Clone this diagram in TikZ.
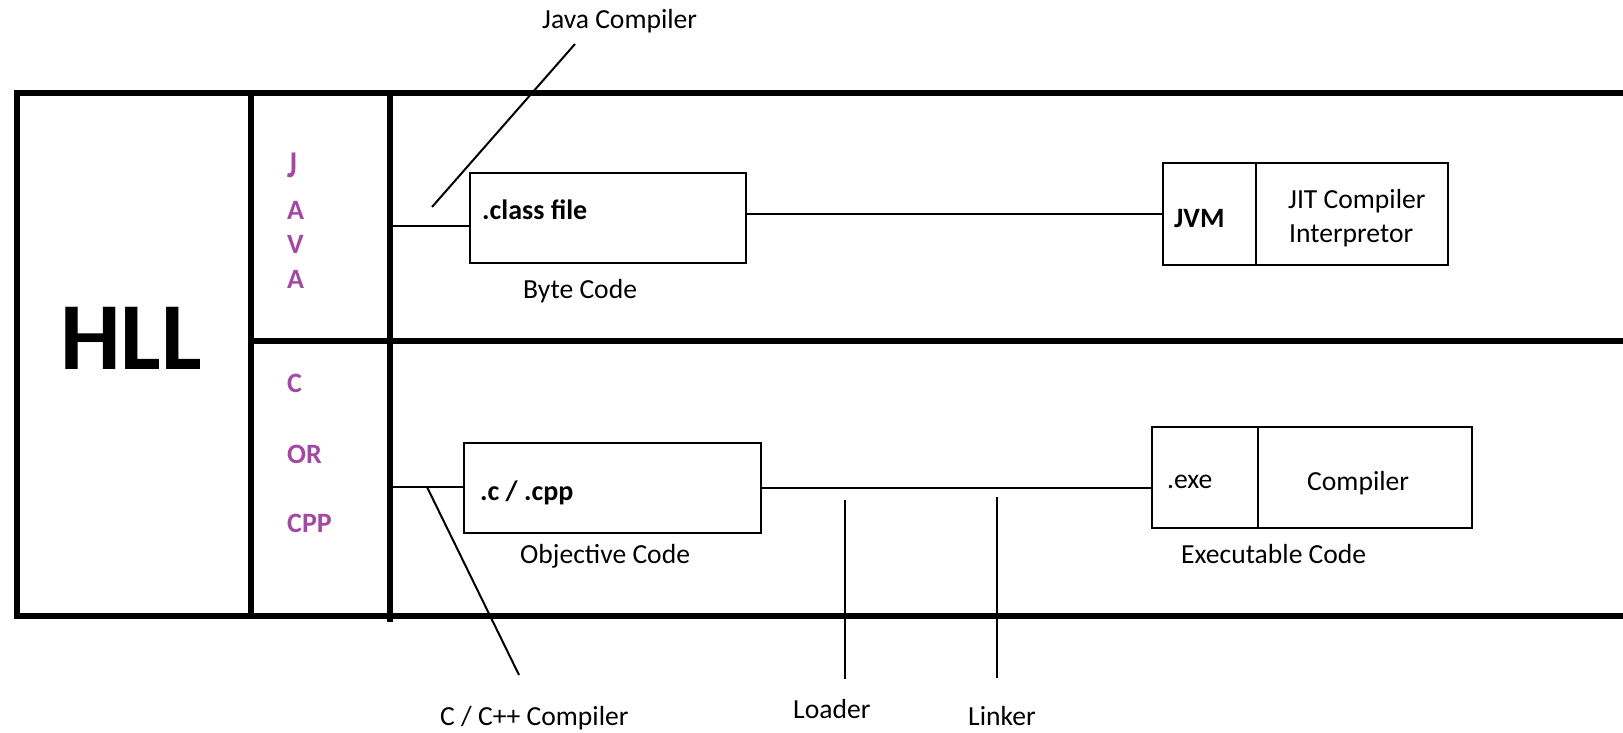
\documentclass[tikz,border=0pt]{standalone}
\usepackage{fontspec}
\setmainfont{Carlito}
\definecolor{hllpurple}{RGB}{163,73,164}
\begin{document}
\begin{tikzpicture}[x=1pt,y=-1pt,
  frame/.style={line width=6pt, line join=miter},
  conn/.style={line width=2pt},
  box/.style={draw, line width=2.5pt, inner sep=0pt},
  lbl/.style={anchor=base west, inner sep=0pt, font=\fontsize{27.6}{33}\selectfont},
  blbl/.style={anchor=base west, inner sep=0pt, font=\fontsize{28}{33}\selectfont\bfseries},
  purp/.style={blbl, text=hllpurple}]
\useasboundingbox (0,0) rectangle (1623,733);
% frame
\draw[frame] (1623,93) -- (17,93) -- (17,616) -- (1623,616);
\draw[frame] (251,341) -- (1623,341);
\draw[frame] (251,93) -- (251,616);
\draw[frame] (390,93) -- (390,622);
% HLL
\node[anchor=base west, inner sep=0pt, font=\fontsize{96}{110}\selectfont\bfseries] (hll) at (60,369) {HLL};
% JAVA letters
\node[purp] (j1) at (287,178) {\scalebox{1.05}[1.35]{J}};
\node[purp] (j2) at (287,219) {A};
\node[purp] (j3) at (287,253) {V};
\node[purp] (j4) at (287,288) {A};
% C OR CPP
\node[purp] (c1) at (287,392) {C};
\node[purp] (c2) at (287,463) {OR};
\node[purp] (c3) at (287,532) {CPP};
% Java row boxes
\node[box, minimum width=276pt, minimum height=90pt] (classbox) at (608,218) {};
\node[blbl] (classtxt) at (482,219) {.class file};
\node[lbl] (bytecode) at (523,298) {Byte Code};
\node[box, minimum width=93pt, minimum height=102pt] (jvm) at (1209.5,214) {};
\node[box, minimum width=192pt, minimum height=102pt] (jit) at (1352,214) {};
\node[blbl] (jvmtxt) at (1174,227) {JVM};
\node[lbl] (jittxt) at (1288,208) {JIT Compiler};
\node[lbl] (inttxt) at (1289,242) {Interpretor};
% Java connectors
\coordinate (jstart) at (390,226);
\draw[conn] (jstart) -- (jstart -| classbox.west);
\draw[conn] (classbox.east |- jvm.west) -- (jvm.west);
\coordinate (jcA) at (432,207);
\coordinate (jcB) at (575,44);
\draw[conn] (jcA) -- (jcB);
\node[lbl] (javacomp) at (542,29) {Java Compiler};
% C row boxes
\node[box, minimum width=297pt, minimum height=90pt] (cbox) at (612.5,488) {};
\node[blbl] (ctxt) at (480,500) {.c / .cpp};
\node[lbl] (objcode) at (520,563) {Objective Code};
\node[box, minimum width=106pt, minimum height=101pt] (exe) at (1205,477.5) {};
\node[box, minimum width=214pt, minimum height=101pt] (comp) at (1365,477.5) {};
\node[lbl] (exetxt) at (1167,488) {.exe};
\node[lbl] (comptxt) at (1307,490) {Compiler};
\node[lbl] (execode) at (1181,563) {Executable Code};
% C connectors
\coordinate (cstart) at (390,487);
\draw[conn] (cstart) -- (cstart -| cbox.west);
\draw[conn] (cbox.east) -- (cbox.east -| exe.west);
\coordinate (ccA) at (427,487);
\coordinate (ccB) at (519,675);
\draw[conn] (ccA) -- (ccB);
\node[lbl] (ccomp) at (440,725) {C / C++ Compiler};
\coordinate (ldA) at (845,500);
\coordinate (ldB) at (845,679);
\draw[conn] (ldA) -- (ldB);
\node[lbl] (loader) at (793,718) {Loader};
\coordinate (lkA) at (997,497);
\coordinate (lkB) at (997,678);
\draw[conn] (lkA) -- (lkB);
\node[lbl] (linker) at (968,725) {Linker};
\end{tikzpicture}
\end{document}
